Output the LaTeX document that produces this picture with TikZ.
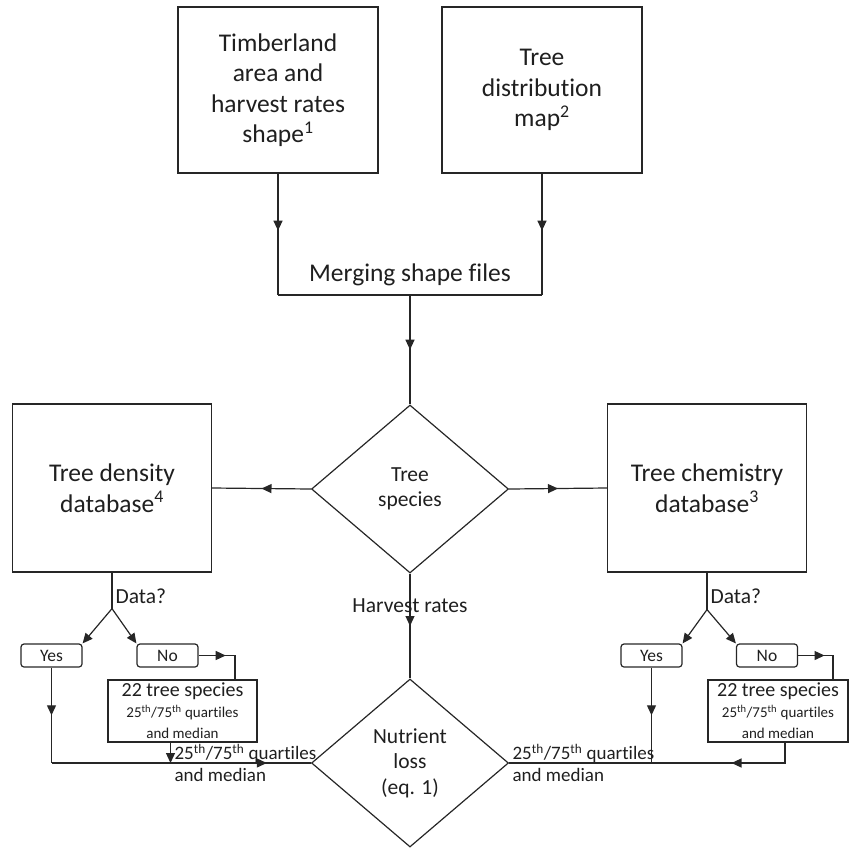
\documentclass[tikz,border=0pt]{standalone}
\usepackage{fontspec}
\setmainfont{Carlito}[Ligatures=CommonOff]
\usepackage{tikz}
\usetikzlibrary{positioning,arrows.meta,calc,shapes.geometric,decorations.markings}

\tikzset{
  bigtxt/.style={font=\fontsize{25.5}{30.5}\selectfont},
  midtxt/.style={font=\fontsize{21.5}{25.5}\selectfont},
  smalltxt/.style={font=\fontsize{19}{22}\selectfont},
  choicetxt/.style={font=\fontsize{17.5}{20}\selectfont},
  srcbox/.style={draw,bigtxt,align=center,inner sep=0pt,minimum width=200pt,minimum height=166pt},
  dbbox/.style={draw,bigtxt,align=center,inner sep=0pt,minimum width=199pt,minimum height=168pt},
  decision/.style={draw,diamond,midtxt,align=center,inner sep=0pt,aspect=1.17,minimum width=197pt,minimum height=168pt},
  choice/.style={draw,rounded corners=3pt,choicetxt,inner sep=0pt,minimum width=61pt,minimum height=23pt},
  fallbox/.style={draw,align=center,inner sep=0pt,minimum height=62pt,font=\fontsize{20}{21}\selectfont},
  midarrow/.style={postaction={decorate},decoration={markings,
    mark=at position #1 with {\arrow{Triangle[length=10pt,width=9pt]}}}},
  midarrow/.default=0.5,
  endarrow/.style={-{Triangle[length=10pt,width=9pt]}}
}
\newcommand{\quartf}{\fontsize{15}{17}\selectfont}

\begin{document}
\begin{tikzpicture}[x=1pt,y=-1pt,line width=1.2pt,draw=black!85,text=black!88]
\useasboundingbox (0,0) rectangle (849,847);
\node[srcbox] (timber) at (278,90) {Timberland\\area and\\harvest rates\\shape\textsuperscript{1}};
\node[srcbox] (distmap) at (542,90) {Tree\\distribution\\map\textsuperscript{2}};
\node[bigtxt,anchor=base] (merge) at (410,281) {Merging shape files};
\coordinate (mergeL) at (278,295);
\coordinate (mergeR) at (542,295);
\coordinate (mergeC) at (410,295);
\draw[midarrow=0.47] (timber.south) -- (mergeL);
\draw[midarrow=0.47] (distmap.south) -- (mergeR);
\draw (mergeL) -- (mergeR);

\node[decision] (species) at (410,489) {Tree\\species};
\node[dbbox] (density) at (112,488) {Tree density\\database\textsuperscript{4}};
\node[dbbox] (chem) at (707,488) {Tree chemistry\\database\textsuperscript{3}};
\node[decision] (loss) at (410,763) {Nutrient\\loss\\(eq. 1)};
\draw[midarrow] (mergeC) -- (species.north);
\draw[midarrow] (species.west) -- (density.east);
\draw[midarrow] (species.east) -- (chem.west);
\draw[midarrow] (species.south) -- node[pos=0.31,midtxt] (harv) {Harvest rates} (loss.north);

% tree density branch
\coordinate (dsplit) at ($(density.south)+(0,36)$);
\node[midtxt,anchor=west,inner sep=1pt] (ddata) at ($(density.south)+(2,24)$) {Data?};
\node[choice] (dyes) at (51.5,655.5) {Yes};
\node[choice] (dno) at (167.5,655.5) {No};
\node[fallbox,minimum width=149pt] (dfall) at (182.5,711) {22 tree species\\{\quartf 25\textsuperscript{th}/75\textsuperscript{th} quartiles}\\{\quartf and median}};
\coordinate (dturn) at (235,655.5);
\coordinate (djoin) at (51.5,763);
\coordinate (dfallout) at ($(dfall.south)+(-12,0)$);
\draw (density.south) -- (dsplit);
\draw[endarrow] (dsplit) -- (dyes.north east);
\draw[endarrow] (dsplit) -- (dno.north west);
\draw[midarrow=0.45] (dno.east) -- (dturn) -- (dturn |- dfall.north);
\draw[midarrow] (dyes.south) -- (djoin);
\draw[midarrow=0.83] (djoin) -- (loss.west);
\draw[endarrow] (dfallout) -- (dfallout |- djoin);
\node[smalltxt,align=left,anchor=west,inner sep=1pt] (dqlabel) at (173,763) {25\textsuperscript{th}/75\textsuperscript{th} quartiles\\and median};

% tree chemistry branch
\coordinate (csplit) at ($(chem.south)+(0,37)$);
\node[midtxt,anchor=west,inner sep=1pt] (cdata) at ($(chem.south)+(2,24)$) {Data?};
\node[choice] (cyes) at (651.5,655.5) {Yes};
\node[choice] (cno) at (767,655.5) {No};
\node[fallbox,minimum width=140pt] (cfall) at (778,711) {22 tree species\\{\quartf 25\textsuperscript{th}/75\textsuperscript{th} quartiles}\\{\quartf and median}};
\coordinate (cturn) at (833,655.5);
\coordinate (cjoin) at (651.5,763);
\coordinate (cfallout) at ($(cfall.south)+(7,0)$);
\draw (chem.south) -- (csplit);
\draw[endarrow] (csplit) -- (cyes.north east);
\draw[endarrow] (csplit) -- (cno.north west);
\draw[midarrow=0.45] (cno.east) -- (cturn) -- (cturn |- cfall.north);
\draw[midarrow] (cyes.south) -- (cjoin);
\draw[midarrow=0.48] (cfallout) -- (cfallout |- cjoin) -- (cjoin);
\draw (cjoin) -- (loss.east);
\node[smalltxt,align=left,anchor=west,inner sep=1pt] (cqlabel) at (511,763) {25\textsuperscript{th}/75\textsuperscript{th} quartiles\\and median};
\end{tikzpicture}
\end{document}
